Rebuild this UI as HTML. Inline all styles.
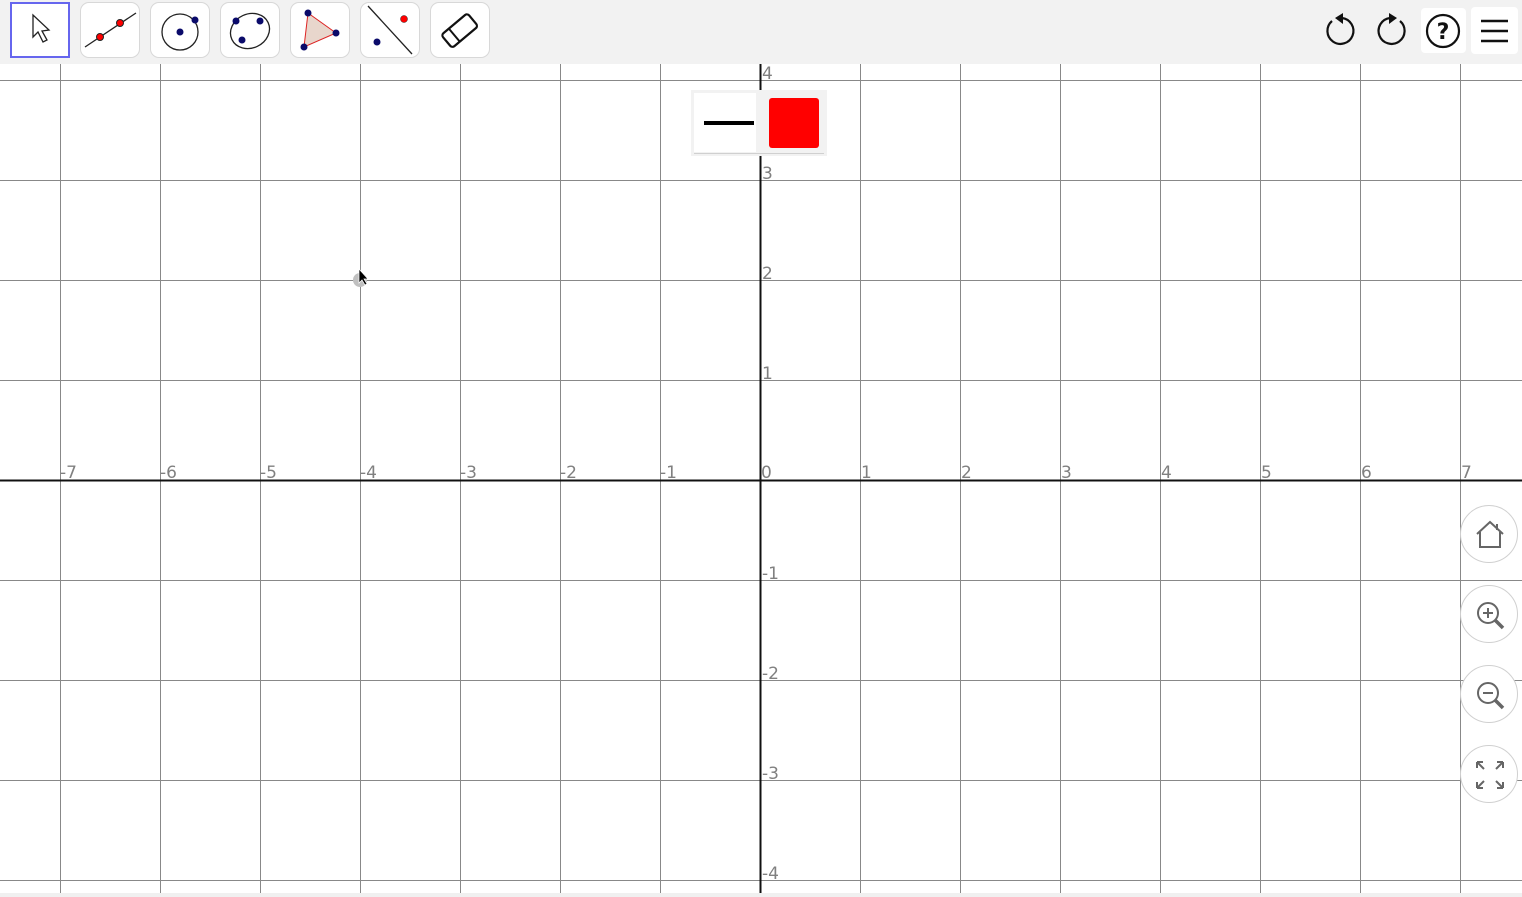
<!DOCTYPE html>
<html><head><meta charset="utf-8"><style>
html,body{margin:0;padding:0;width:1522px;height:897px;overflow:hidden;background:#fff;font-family:"DejaVu Sans","Liberation Sans",sans-serif}
#tb{position:absolute;left:0;top:0;width:1522px;height:64px;background:#f2f2f2}
.tool{position:absolute;top:2px;width:60px;height:56px;background:#fff;border:1px solid #d8d8d8;border-radius:9px;box-sizing:border-box}
.tool.sel{border:2px solid #6666ee;border-radius:0}
.tool svg,.rb svg{position:absolute;left:0;top:0}
.rb{position:absolute;width:58px;height:58px;border-radius:50%;background:#fff;border:1px solid #d0d0d0;box-sizing:border-box;left:1460px}
</style></head><body>
<svg id="g" width="1522" height="897" style="position:absolute;left:0;top:0"></svg>
<div id="tb">
<div class="tool sel" style="left:10px"><svg width="58" height="54"><path d="M21 11 L21 33 L26 28 L31 38 L35 36 L30 27 L37 26 Z" fill="#fff" stroke="#222" stroke-width="1.3"/></svg></div>
<div class="tool" style="left:80px"><svg width="58" height="54"><line x1="4" y1="44" x2="55" y2="10" stroke="#222" stroke-width="1.3"/><circle cx="19" cy="34" r="3.5" fill="red" stroke="#222"/><circle cx="39" cy="20" r="3.5" fill="red" stroke="#222"/></svg></div>
<div class="tool" style="left:150px"><svg width="58" height="54"><circle cx="29" cy="29" r="18" fill="none" stroke="#222" stroke-width="1.3"/><circle cx="29" cy="29" r="3.5" fill="#0a0a6a"/><circle cx="44" cy="17" r="3.5" fill="#0a0a6a"/></svg></div>
<div class="tool" style="left:220px"><svg width="58" height="54"><ellipse cx="29" cy="28" rx="20" ry="17" transform="rotate(-25 29 28)" fill="none" stroke="#222" stroke-width="1.3"/><circle cx="15" cy="18" r="3.5" fill="#0a0a6a"/><circle cx="39" cy="18" r="3.5" fill="#0a0a6a"/><circle cx="21" cy="37" r="3.5" fill="#0a0a6a"/></svg></div>
<div class="tool" style="left:290px"><svg width="58" height="54"><polygon points="17,10 45,30 13,44" fill="#e8d6cc" stroke="#d22" stroke-width="1"/><circle cx="17" cy="10" r="3.5" fill="#0a0a6a"/><circle cx="45" cy="30" r="3.5" fill="#0a0a6a"/><circle cx="13" cy="44" r="3.5" fill="#0a0a6a"/></svg></div>
<div class="tool" style="left:360px"><svg width="58" height="54"><line x1="7" y1="3" x2="51" y2="51" stroke="#222" stroke-width="1.3"/><circle cx="43" cy="16" r="3.5" fill="red" stroke="#222" stroke-width=".5"/><circle cx="16" cy="39" r="3.5" fill="#0a0a6a"/></svg></div>
<div class="tool" style="left:430px"><svg width="58" height="54"><g transform="rotate(-40 29 28)"><rect x="12" y="19" width="34" height="17" rx="3" fill="#fff" stroke="#111" stroke-width="2.2"/><line x1="22" y1="19" x2="22" y2="36" stroke="#111" stroke-width="2"/></g></svg></div>
<svg width="40" height="40" style="position:absolute;left:1320px;top:11px"><path d="M12 10 A13 13 0 1 0 22 7" fill="none" stroke="#111" stroke-width="2.2"/><polygon points="23,2 23,13 15,7" fill="#111"/></svg>
<svg width="40" height="40" style="position:absolute;left:1372px;top:11px"><path d="M28 10 A13 13 0 1 1 18 7" fill="none" stroke="#111" stroke-width="2.2"/><polygon points="17,2 17,13 25,7" fill="#111"/></svg>
<div style="position:absolute;left:1421px;top:8px;width:45px;height:45px;background:#fff;border-radius:4px"><svg width="45" height="45"><circle cx="22" cy="23" r="16" fill="none" stroke="#111" stroke-width="2.2"/><text x="22" y="31" font-size="22" font-weight="bold" text-anchor="middle" fill="#111">?</text></svg></div>
<div style="position:absolute;left:1471px;top:7px;width:47px;height:47px;background:#fff;border-radius:4px"><svg width="47" height="47"><g stroke="#111" stroke-width="2.4"><line x1="10" y1="14" x2="37" y2="14"/><line x1="10" y1="24" x2="37" y2="24"/><line x1="10" y1="34" x2="37" y2="34"/></g></svg></div>
</div>
<div style="position:absolute;left:691px;top:90px;width:136px;height:66px;background:#f2f2f2">
<div style="position:absolute;left:3px;top:3px;width:62px;height:59px;background:#fff"><div style="position:absolute;left:10px;top:28px;width:50px;height:4px;background:#000"></div></div>
<div style="position:absolute;left:78px;top:8px;width:50px;height:50px;background:red;border-radius:3px"></div>
<div style="position:absolute;left:3px;top:63px;width:130px;height:1px;background:#d0d0d0"></div>
</div>
<div class="rb" style="top:505px"><svg width="58" height="58"><path d="M16 28 L29 16 L42 28 M19 26 V41 H39 V26 M36 18 V24" fill="none" stroke="#666" stroke-width="2"/></svg></div>
<div class="rb" style="top:585px"><svg width="58" height="58"><circle cx="27" cy="27" r="10" fill="none" stroke="#666" stroke-width="2"/><path d="M22 27 H32 M27 22 V32" stroke="#666" stroke-width="2"/><line x1="34" y1="34" x2="42" y2="42" stroke="#666" stroke-width="3.5"/></svg></div>
<div class="rb" style="top:665px"><svg width="58" height="58"><circle cx="27" cy="27" r="10" fill="none" stroke="#666" stroke-width="2"/><path d="M22 27 H32" stroke="#666" stroke-width="2"/><line x1="34" y1="34" x2="42" y2="42" stroke="#666" stroke-width="3.5"/></svg></div>
<div class="rb" style="top:745px"><svg width="58" height="58"><g stroke="#666" stroke-width="2" fill="none"><path d="M16 16 L23 23 M16 16 H22 M16 16 V22"/><path d="M42 16 L35 23 M42 16 H36 M42 16 V22"/><path d="M16 42 L23 35 M16 42 H22 M16 42 V36"/><path d="M42 42 L35 35 M42 42 H36 M42 42 V36"/></g></svg></div>
<script>
const xTicks=[-7,-6,-5,-4,-3,-2,-1,0,1,2,3,4,5,6,7];
const yTicks=[4,3,2,1,-1,-2,-3,-4];
const pointX=[-4]; const pointY=[2];
const ox=760, oy=480, u=100;
const sx=v=>ox+v*u, sy=v=>oy-v*u;
const g=document.getElementById('g'), NS='http://www.w3.org/2000/svg';
function mk(t,a){const e=document.createElementNS(NS,t);for(const k in a)e.setAttribute(k,a[k]);g.appendChild(e);return e;}
for(let i=-8;i<=8;i++){const x=sx(i)+0.5;if(x<0||x>1522)continue;
const l=mk('line',{x1:x,y1:64,x2:x,y2:897,stroke:'#888','stroke-width':1});

}
for(let j=-5;j<=5;j++){const y=sy(j)+0.5;if(y<64||y>897)continue;
const l=mk('line',{x1:0,y1:y,x2:1522,y2:y,stroke:'#888','stroke-width':1});

}
const xa=mk('line',{x1:0,y1:oy+0.5,x2:1522,y2:oy+0.5,stroke:'#111','stroke-width':2});


const ya=mk('line',{x1:ox+0.5,y1:64,x2:ox+0.5,y2:897,stroke:'#111','stroke-width':2});


xTicks.forEach(v=>{const t=mk('text',{x:sx(v)+(v<0?0:1),y:oy-2,'font-size':17,fill:'#808080'});t.textContent=v<0?'-'+(-v):''+v;

});
yTicks.forEach(v=>{const t=mk('text',{x:ox+2,y:sy(v)-1,'font-size':17,fill:'#808080'});t.textContent=v<0?'-'+(-v):''+v;

});
pointX.forEach((px,i)=>{const c=mk('circle',{cx:sx(px),cy:sy(pointY[i]),r:7,fill:'#c0c0c0'});


const p=mk('path',{d:`M${sx(px)-1} ${sy(pointY[i])-11} v14 l3-3 l3 5 l2-1 l-3-5 h4 z`,fill:'#000',stroke:'#fff','stroke-width':.7});

});
const bs=mk('rect',{x:0,y:893,width:1522,height:4,fill:'#f0f0f0'});


</script>
</body></html>
